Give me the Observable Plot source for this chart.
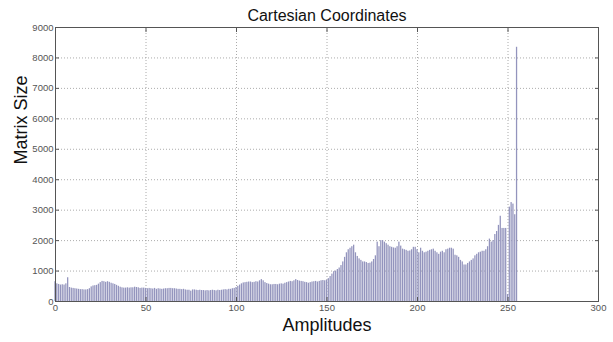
<!DOCTYPE html>
<html>
<head>
<meta charset="utf-8">
<script src="https://cdn.jsdelivr.net/npm/d3@7"></script>
<script src="https://cdn.jsdelivr.net/npm/@observablehq/plot@0.6"></script>
<style>
  html, body { margin: 0; padding: 0; background: #fff; }
  #chart svg { display: block; }
</style>
</head>
<body>
<div id="chart"></div>
<script>
// Histogram of amplitudes 0..255: number of matrix entries per amplitude
const amplitudes = d3.range(0, 256);
const matrixSize = [
  650, 580, 560, 540, 550, 540, 580, 780, 460, 440,
  430, 420, 410, 400, 390, 390, 380, 380, 390, 420,
  480, 510, 520, 530, 570, 620, 660, 650, 630, 650,
  630, 600, 580, 560, 530, 500, 470, 450, 440, 440,
  450, 440, 450, 450, 470, 460, 450, 430, 440, 440,
  430, 420, 430, 420, 410, 430, 400, 420, 410, 400,
  410, 420, 420, 430, 430, 420, 420, 410, 400, 400,
  390, 400, 380, 370, 370, 340, 380, 380, 370, 360,
  370, 360, 360, 350, 360, 350, 360, 370, 360, 350,
  370, 360, 370, 380, 390, 380, 400, 400, 420, 430,
  460, 500, 540, 580, 610, 620, 630, 640, 640, 620,
  630, 650, 640, 680, 720, 680, 620, 590, 570, 550,
  550, 560, 560, 550, 570, 580, 570, 600, 620, 640,
  660, 650, 680, 720, 690, 670, 660, 650, 630, 620,
  600, 620, 640, 650, 660, 640, 660, 680, 690, 680,
  700, 750, 820, 900, 980, 1000, 1050, 1100, 1180, 1300,
  1450, 1600, 1700, 1750, 1800, 1850, 1600, 1480, 1400, 1350,
  1300, 1300, 1280, 1250, 1260, 1300, 1380, 1500, 1950, 1800,
  2000, 2000, 1950, 1900, 1850, 1800, 1780, 1760, 1750, 1800,
  1950, 1820, 1720, 1700, 1680, 1650, 1660, 1700, 1780, 1780,
  1700, 1600, 1750, 1650, 1600, 1620, 1650, 1680, 1700, 1720,
  1650, 1600, 1550, 1620, 1650, 1600, 1700, 1720, 1750, 1750,
  1720, 1520, 1500, 1450, 1350, 1300, 1200, 1200, 1250, 1300,
  1350, 1400, 1500, 1550, 1600, 1620, 1650, 1650, 1700, 1800,
  2050, 1950, 2000, 2200, 2300, 2500, 2800, 2400, 2400, 2400,
  230, 3100, 3250, 3200, 2850, 8350
];
const xTicks = [0, 50, 100, 150, 200, 250, 300];
const yTicks = [0, 1000, 2000, 3000, 4000, 5000, 6000, 7000, 8000, 9000];
const titleText = "Cartesian Coordinates";
const xLabel = "Amplitudes";
const yLabel = "Matrix Size";

const barWidth = 0.7;
const bins = amplitudes.map((a, i) => ({a, n: matrixSize[i]}));

const tickFont = "'Liberation Sans Narrow', 'Liberation Sans', Arial, sans-serif";
const labelFont = "'Liberation Sans', Arial, sans-serif";
const plain = d3.format("d");

const grid = {stroke: "#8a8a8a", strokeOpacity: 0.9, strokeDasharray: "1,2", strokeWidth: 0.8};

const chart = Plot.plot({
  width: 613,
  height: 342,
  marginLeft: 55,
  marginRight: 15,
  marginTop: 27,
  marginBottom: 41,
  style: {background: "#fff", fontFamily: tickFont},
  x: {domain: [0, 300]},
  y: {domain: [0, 9000]},
  marks: [
    Plot.gridX(xTicks, grid),
    Plot.gridY(yTicks, grid),
    Plot.rectY(bins, {
      x1: d => d.a - barWidth / 2,
      x2: d => d.a + barWidth / 2,
      y1: 0,
      y2: "n",
      fill: "#9394bd"
    }),
    Plot.frame({stroke: "#555", strokeWidth: 1}),
    Plot.axisX(xTicks, {anchor: "bottom", tickSize: -4, tickPadding: 7, tickFormat: plain, stroke: "#555", fill: "#555", fontSize: 9.5, label: null}),
    Plot.axisX(xTicks, {anchor: "top", tickSize: -4, tickFormat: () => "", stroke: "#555", label: null}),
    Plot.axisY(yTicks, {anchor: "left", tickSize: -4, tickPadding: 6, tickFormat: plain, stroke: "#555", fill: "#555", fontSize: 9.5, label: null}),
    Plot.axisY(yTicks, {anchor: "right", tickSize: -4, tickFormat: () => "", stroke: "#555", label: null}),
    Plot.text([titleText], {frameAnchor: "top", dy: -18, fontSize: 16, fill: "#111", fontFamily: labelFont}),
    Plot.text([xLabel], {frameAnchor: "bottom", dy: 29, fontSize: 18, fill: "#111", fontFamily: labelFont}),
    Plot.text([yLabel], {frameAnchor: "left", dx: -34, rotate: -90, fontSize: 18, fill: "#111", fontFamily: labelFont})
  ]
});

document.getElementById("chart").appendChild(chart);
</script>
</body>
</html>
